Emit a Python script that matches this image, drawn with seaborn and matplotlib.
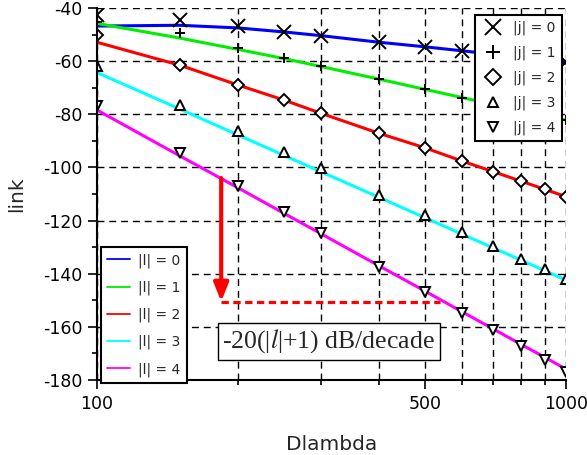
import numpy as np
import pandas as pd
import matplotlib
matplotlib.use("Agg")
import matplotlib.pyplot as plt
import seaborn as sns
from matplotlib.lines import Line2D
from matplotlib.path import Path
from matplotlib.transforms import TransformedPath
from matplotlib.ticker import FixedLocator, MultipleLocator, NullFormatter

# ---------------- data ----------------
dlambda = [100, 150, 200, 250, 300, 400, 500, 600, 700, 800, 900, 1000]

# lines (|l| = 0..4)
link_l0 = [-46.8, -46.5, -47.5, -49.0, -50.4, -52.9, -54.6, -56.1, -57.4, -58.6, -59.7, -60.8]
link_l1 = [-45.8, -51.3, -55.6, -59.0, -62.0, -66.8, -70.6, -73.7, -76.3, -78.6, -80.5, -82.2]
link_l2 = [-52.9, -61.5, -69.0, -74.6, -79.6, -87.2, -92.6, -97.6, -101.6, -105.1, -108.2, -111.0]
link_l3 = [-64.3, -78.0, -87.8, -95.4, -101.6, -111.3, -118.9, -125.1, -130.3, -134.8, -138.8, -142.4]
link_l4 = [-78.4, -95.6, -107.7, -117.2, -124.9, -137.1, -146.5, -154.3, -160.8, -166.5, -171.4, -175.9]

# markers (|j| = 0..4)
link_j0 = [-42.5, -44.5, -46.8, -48.9, -50.5, -52.9, -54.6, -56.1, -57.5, -58.7, -59.7, -60.5]
link_j1 = [-45.3, -49.5, -55.2, -58.9, -61.8, -66.9, -70.6, -73.8, -76.4, -78.7, -80.6, -82.2]
link_j2 = [-50.2, -61.5, -69.0, -74.6, -79.6, -87.2, -92.6, -97.6, -101.6, -105.1, -108.2, -111.0]
link_j3 = [-62.0, -76.5, -86.3, -94.1, -100.3, -110.4, -117.9, -124.2, -129.6, -134.5, -138.4, -142.0]
link_j4 = [-76.9, -94.7, -107.0, -116.7, -124.6, -137.4, -146.8, -154.9, -161.2, -167.1, -172.5, -176.9]

l_labels = ["|l| = 0", "|l| = 1", "|l| = 2", "|l| = 3", "|l| = 4"]
j_labels = ["|j| = 0", "|j| = 1", "|j| = 2", "|j| = 3", "|j| = 4"]
l_colors = ["#0000ff", "#00ee00", "#ff0000", "#00ffff", "#ff00ff"]

x_major = [100, 500, 1000]
x_minor = [200, 300, 400, 600, 700, 800, 900]

# annotation geometry (data coordinates)
arrow_x = 184
arrow_y_top = -104
arrow_y_bot = -150.5
slope_x_end = 540
note_x, note_y = 312, -165.5

# ---------------- plot ----------------
sns.set_style("white")
plt.rcParams["font.family"] = ["DejaVu Sans"]
plt.rcParams["axes.unicode_minus"] = False
plt.rcParams["mathtext.fontset"] = "stix"

fig = plt.figure(figsize=(5.87, 4.55), dpi=100)
ax = fig.add_axes([97 / 587, 1 - 380 / 455, (566 - 97) / 587, (380 - 8) / 455])

df_l = pd.DataFrame({
    "Dlambda": dlambda * 5,
    "link": link_l0 + link_l1 + link_l2 + link_l3 + link_l4,
    "series": sum([[lab] * len(dlambda) for lab in l_labels], []),
})
sns.lineplot(data=df_l, x="Dlambda", y="link", hue="series", hue_order=l_labels,
             palette=l_colors, linewidth=2.2, legend=False, ax=ax, zorder=3)

j_series = [link_j0, link_j1, link_j2, link_j3, link_j4]
j_markers = ["x", "+", "D", "^", "v"]
j_sizes = [9.5, 7.5, 6.0, 6.5, 6.5]
for vals, mk, ms in zip(j_series, j_markers, j_sizes):
    sns.lineplot(x=dlambda, y=vals, ax=ax, linestyle="none", marker=mk, markersize=ms,
                 markerfacecolor="white", markeredgecolor="black", markeredgewidth=1.4,
                 color="black", zorder=4)

# clip markers/lines at the axes box (half markers at the edges)
clip = TransformedPath(Path.unit_rectangle(), ax.transAxes)
for ln in ax.lines:
    ln.set_clip_path(clip)

ax.set_xscale("log")
ax.set_xlim(100, 1000)
ax.set_ylim(-180, -40)
ax.xaxis.set_major_locator(FixedLocator(x_major))
ax.xaxis.set_minor_locator(FixedLocator(x_minor))
ax.set_xticklabels([str(v) for v in x_major])
ax.xaxis.set_minor_formatter(NullFormatter())
ax.yaxis.set_major_locator(MultipleLocator(20))
ax.yaxis.set_minor_locator(MultipleLocator(10))

dash = (0, (5, 3.5))
ax.grid(True, which="major", axis="y", color="black", lw=1.0, linestyle=dash)
ax.grid(True, which="both", axis="x", color="black", lw=1.0, linestyle=dash)
ax.set_axisbelow(True)

for s in ["top", "right"]:
    ax.spines[s].set_visible(False)
for s in ["left", "bottom"]:
    ax.spines[s].set_color("black")
    ax.spines[s].set_linewidth(1.5)
    ax.spines[s].set_zorder(5)

ax.tick_params(which="major", direction="out", length=6.5, width=1.2, colors="black",
               labelsize=12.5, pad=4, left=True, bottom=True)
ax.tick_params(which="minor", direction="out", length=3.6, width=1.2, colors="black",
               left=True, bottom=True)

ax.set_xlabel("Dlambda", fontsize=14.5, labelpad=16)
ax.set_ylabel("link", fontsize=14.5, labelpad=12)

# annotation: arrow + dashed line + text
ax.annotate("", xy=(arrow_x, arrow_y_bot), xytext=(arrow_x, arrow_y_top),
            arrowprops=dict(arrowstyle="-|>,head_length=0.55,head_width=0.22",
                            color="red", lw=3, mutation_scale=20,
                            shrinkA=0, shrinkB=0), zorder=6)
ax.plot([arrow_x, slope_x_end], [arrow_y_bot, arrow_y_bot], color="red", lw=2.3,
        linestyle=(0, (2.3, 1.4)), zorder=6)
ax.text(note_x, note_y, r"-20(|$l$|+1) dB/decade", family="Liberation Serif",
        fontsize=18.5, ha="center", va="center", zorder=7,
        bbox=dict(boxstyle="square,pad=0.18", fc="white", ec="black", lw=1.0))

# legends
l_handles = [Line2D([], [], color=c, lw=1.3) for c in l_colors]
leg1 = ax.legend(l_handles, l_labels, loc="lower left", bbox_to_anchor=(0.0085, -0.008),
                 fontsize=10, frameon=True, fancybox=False, edgecolor="black",
                 framealpha=1, handlelength=1.65, handletextpad=0.6,
                 labelspacing=0.92, borderpad=0.45, borderaxespad=0)
leg1.get_frame().set_linewidth(1.5)
leg1.set_zorder(8)
ax.add_artist(leg1)

j_leg_sizes = [12, 10, 8, 7.5, 7.5]
j_handles = [Line2D([], [], ls="none", marker=mk, markersize=ms, markerfacecolor="white",
                    markeredgecolor="black", markeredgewidth=1.4)
             for mk, ms in zip(j_markers, j_leg_sizes)]
leg2 = ax.legend(j_handles, j_labels, loc="upper right", bbox_to_anchor=(0.991, 0.981),
                 fontsize=10, frameon=True, fancybox=False, edgecolor="black",
                 framealpha=1, handlelength=1.75, handletextpad=0.6,
                 labelspacing=0.75, borderpad=0.42, borderaxespad=0)
leg2.get_frame().set_linewidth(1.5)
leg2.set_zorder(8)

fig.savefig("out.png", dpi=100)
